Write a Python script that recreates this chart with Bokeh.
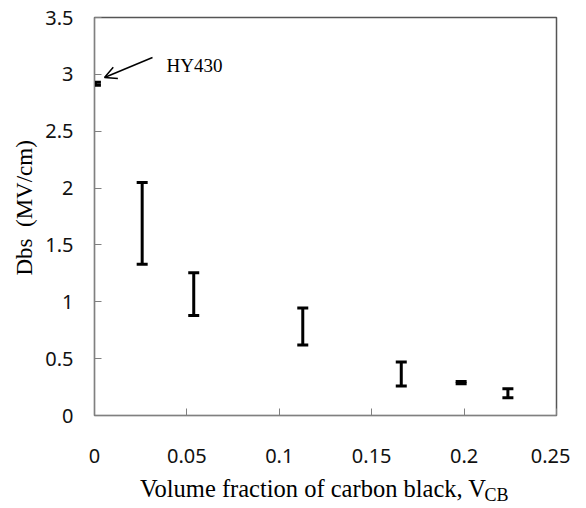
from bokeh.plotting import figure
from bokeh.models import (ColumnDataSource, Whisker, TeeHead, Range1d, FixedTicker,
                          Label, Arrow, OpenHead, LinearAxis)
from bokeh.embed import file_html
from bokeh.resources import INLINE

# Data: carbon black volume fraction vs breakdown strength range (MV/cm)
vcb = [0.0005, 0.0258, 0.0537, 0.1127, 0.166, 0.1984, 0.2237]
dbs_low = [2.905, 1.33, 0.88, 0.62, 0.26, 0.28, 0.155]
dbs_high = [2.93, 2.05, 1.255, 0.945, 0.47, 0.30, 0.235]

x_ticks = [0, 0.05, 0.1, 0.15, 0.2, 0.25]
x_tick_labels = ["0", "0.05", "0.1", "0.15", "0.2", "0.25"]
y_ticks = [0, 0.5, 1, 1.5, 2, 2.5, 3, 3.5]
y_tick_labels = ["0", "0.5", "1", "1.5", "2", "2.5", "3", "3.5"]

NB = "\u00a0"
serif = "Liberation Serif"

W, H = 570, 507
p = figure(width=W, height=H, output_backend="svg", toolbar_location=None,
           x_range=Range1d(0, 0.25), y_range=Range1d(0, 3.5),
           min_border_left=94, min_border_right=W - 556, min_border_top=17,
           min_border_bottom=H - 415)
p.background_fill_color = "white"
p.border_fill_color = "white"
p.outline_line_color = "#555555"
p.outline_line_width = 1.5
p.grid.visible = False

for ax, ticks, labels in ((p.xaxis, x_ticks, x_tick_labels), (p.yaxis, y_ticks, y_tick_labels)):
    ax.ticker = FixedTicker(ticks=ticks)
    ax.major_label_overrides = {t: l for t, l in zip(ticks, labels)}
    ax.major_tick_in = 7
    ax.major_tick_out = 0
    ax.minor_tick_line_color = None
    ax.axis_line_color = "#808080"
    ax.major_tick_line_color = "#808080"
    ax.major_label_text_font = "Noto Sans"
    ax.major_label_text_font_size = "20px"
    ax.major_label_text_color = "#111111"
    ax.axis_label_text_font = serif
    ax.axis_label_text_font_style = "normal"
    ax.axis_label_text_color = "black"
p.xaxis.major_label_standoff = 33
p.yaxis.major_label_standoff = 21

p.xaxis.axis_label = "Volume fraction of carbon black, V" + NB * 4
p.xaxis.axis_label_text_font_size = "24.5px"
p.xaxis.axis_label_standoff = 9
p.yaxis.axis_label = NB * 3 + "Dbs" + NB + " (MV/cm)"
p.yaxis.axis_label_text_font_size = "23px"
p.yaxis.axis_label_standoff = 5

# subscript "CB" as the label of a second (bare) axis below
sub_axis = LinearAxis(ticker=FixedTicker(ticks=[]), axis_line_color=None,
                      major_tick_in=0, major_tick_out=0, minor_tick_line_color=None,
                      major_label_text_font_size="1px",
                      axis_label=NB * 76 + "CB", axis_label_standoff=-20,
                      axis_label_text_font=serif, axis_label_text_font_size="18px",
                      axis_label_text_font_style="normal", axis_label_text_color="black")
p.add_layout(sub_axis, "below")

src = ColumnDataSource(dict(x=vcb, lo=dbs_low, hi=dbs_high))
wk = Whisker(base="x", lower="lo", upper="hi", source=src, dimension="height",
             line_width=3, line_color="black",
             upper_head=TeeHead(size=11, line_width=3, line_color="black"),
             lower_head=TeeHead(size=11, line_width=3, line_color="black"))
p.add_layout(wk)

# annotation positions (pixel -> data)
def dx(px):
    return (px - 95) / 1848.0

def dy(py):
    return (416 - py) / 113.7

p.add_layout(Label(x=dx(167), y=dy(66.5), text="HY430",
                   text_font=serif, text_font_size="19px", text_align="left",
                   text_baseline="alphabetic", text_color="black"))
p.add_layout(Arrow(end=OpenHead(size=12, line_width=1.5, line_color="black"),
                   x_start=dx(153), y_start=dy(58), x_end=dx(105), y_end=dy(78),
                   line_width=1.5, line_color="black"))

open("out.html", "w").write(file_html(p, INLINE))
